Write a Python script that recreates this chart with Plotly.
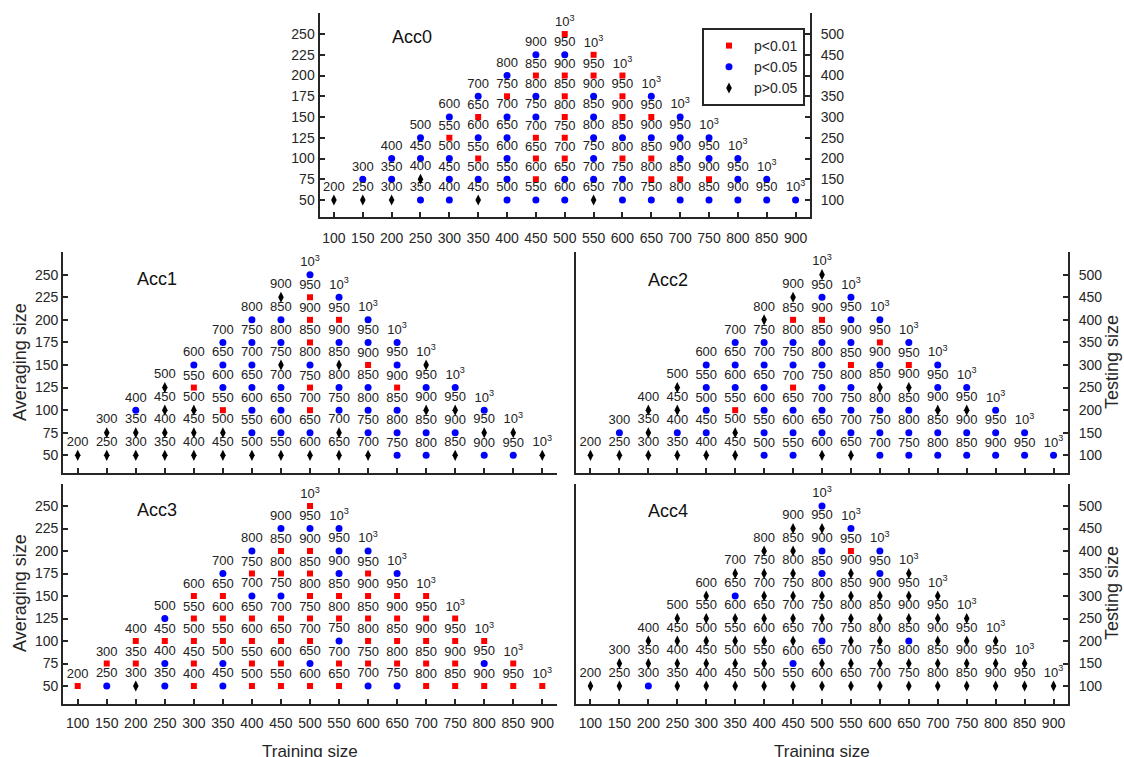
import plotly.graph_objects as go

W, H = 1124, 757

train_sizes = [100, 150, 200, 250, 300, 350, 400, 450, 500, 550, 600, 650, 700, 750, 800, 850, 900]
avg_sizes = [50, 75, 100, 125, 150, 175, 200, 225, 250]
test_ticks = [100, 150, 200, 250, 300, 350, 400, 450, 500]

# significance code per training size, listed from averaging size 50 upward
# r: p<0.01, b: p<0.05, k: p>0.05
acc0 = ["k", "kb", "kbb", "bkbb", "bbbrb", "kbrbrb", "bbbbbrb", "brrrbbrb", "bbrrrrrbr",
        "kbbbbbrr", "bbrbrrr", "brrbrb", "brbbb", "brbb", "bbb", "bb", "b"]
acc1 = ["k", "kk", "kkb", "kkkk", "kkkrb", "kkrbbb", "kbbbbbb", "kbbbkbbk", "kbrrbrrrb",
        "kkbbkbrb", "kbbbrbb", "bbbrbb", "bbkbk", "kbkb", "bkb", "bk", "k"]
acc2 = ["k", "kb", "kkk", "kbkk", "kbbbb", "kkrbbb", "bbbbbbk", "bbbrbbrk", "kbbbbbrbk",
        "kbbbrbbb", "bbbkbrb", "bbbkrb", "bbkbb", "bbkb", "bbb", "bb", "b"]
acc3 = ["r", "br", "krr", "bbrb", "rrrrr", "bbrrrb", "rrrrbrb", "rrrrbrrb", "rbrrrrrbr",
        "rrbrrbbb", "brrrrrb", "brrrrb", "rrrrr", "rrrr", "rbr", "rr", "r"]
acc4 = ["k", "kk", "bkk", "kkkk", "kkkkk", "kkkkbk", "kkkkkkk", "kbkkkkkk", "kkbkkbbkb",
        "kkkkkkrb", "kkkkkbb", "kkbkkk", "kkkkk", "kkkk", "kkk", "kk", "k"]

panel_names = ["Acc0", "Acc1", "Acc2", "Acc3", "Acc4"]
panel_data = [acc0, acc1, acc2, acc3, acc4]
legend_names = {"r": "p<0.01", "b": "p<0.05", "k": "p>0.05"}

AX = "#262626"
FONT = "Liberation Sans, Arial, sans-serif"
LBLFONT = "Liberation Sans Narrow, Arial Narrow, Liberation Sans, Arial, sans-serif"
styles = {
    "r": dict(symbol="square", color="#ff0000", size=6),
    "b": dict(symbol="circle", color="#0000ff", size=7),
    "k": dict(symbol="diamond-tall", color="#000000", size=8),
}

def px_x(a, b):
    return [a / W, b / W]

def px_y(top, bottom):
    return [1 - bottom / H, 1 - top / H]

# panel pixel boxes: (left, right, top, bottom)
boxes = [
    (319.5, 810, 13.3, 216.6),
    (63.2, 556.8, 252.1, 473.4),
    (576, 1068, 252.1, 473.4),
    (63.2, 556.8, 483.5, 704),
    (576, 1068, 483.5, 704),
]

fig = go.Figure()

for pi, cols in enumerate(panel_data):
    k = pi + 1
    for code in "rbk":
        xs, ys, txt = [], [], []
        for x, col in zip(train_sizes, cols):
            for j, c in enumerate(col):
                if c == code:
                    y = avg_sizes[j]
                    tot = x + 2 * y
                    xs.append(x)
                    ys.append(y)
                    txt.append("10<sup>3</sup>" if tot == 1000 else str(tot))
        fig.add_trace(go.Scatter(
            x=xs, y=ys, text=txt, mode="markers+text", textposition="top center",
            marker=dict(symbol=styles[code]["symbol"], color=styles[code]["color"],
                        size=styles[code]["size"], line=dict(width=0)),
            textfont=dict(family=LBLFONT, size=13, color="#222222"),
            xaxis="x" if k == 1 else f"x{k}", yaxis="y" if k == 1 else f"y{k}",
            showlegend=False, hoverinfo="skip", cliponaxis=False,
        ))

for code in "rbk":
    fig.add_trace(go.Scatter(
        x=[None], y=[None], mode="markers", name=legend_names[code],
        marker=dict(symbol=styles[code]["symbol"], color=styles[code]["color"],
                    size=styles[code]["size"], line=dict(width=0)),
        xaxis="x", yaxis="y", showlegend=True,
    ))

tickfont = dict(family=FONT, size=14, color=AX)
layout = dict(
    width=W, height=H, margin=dict(l=0, r=0, t=0, b=0),
    paper_bgcolor="white", plot_bgcolor="white",
    font=dict(family=FONT, color=AX),
    legend=dict(x=702 / W, y=1 - 28 / H, xanchor="left", yanchor="top",
                bordercolor=AX, borderwidth=2, bgcolor="white",
                font=dict(family=FONT, size=14, color=AX), itemwidth=40,
                tracegroupgap=0),
)

show_x_labels = [True, False, False, True, True]
x_standoff = [8, 4, 4, 5, 5]
show_y_labels = [True, True, False, True, False]
left_ticks = [True, True, False, True, False]
right_axes = [True, False, True, False, True]

for pi in range(5):
    k = pi + 1
    l, r, t, b = boxes[pi]
    xname = "xaxis" if k == 1 else f"xaxis{k}"
    yname = "yaxis" if k == 1 else f"yaxis{k}"
    xa = "x" if k == 1 else f"x{k}"
    ya = "y" if k == 1 else f"y{k}"
    layout[xname] = dict(
        domain=px_x(l, r), anchor=ya, range=[75, 925], tickvals=train_sizes,
        showticklabels=show_x_labels[pi], ticks="inside", ticklen=5, tickwidth=1.5,
        tickcolor=AX, showline=True, linecolor=AX, linewidth=2, showgrid=False,
        zeroline=False, tickfont=tickfont, fixedrange=True,
        ticklabelstandoff=x_standoff[pi],
    )
    layout[yname] = dict(
        domain=px_y(t, b), anchor=xa, range=[30, 275], tickvals=avg_sizes,
        showticklabels=show_y_labels[pi], ticks="inside" if left_ticks[pi] else "",
        ticklen=5, tickwidth=1.5, tickcolor=AX, showline=True, linecolor=AX,
        linewidth=2, showgrid=False, zeroline=False, tickfont=tickfont, fixedrange=True,
    )

right_idx = 6
for pi in range(5):
    if not right_axes[pi]:
        continue
    k = pi + 1
    l, r, t, b = boxes[pi]
    ya = "y" if k == 1 else f"y{k}"
    xa = "x" if k == 1 else f"x{k}"
    layout[f"yaxis{right_idx}"] = dict(
        domain=px_y(t, b), anchor=xa, overlaying=ya, side="right",
        range=[60, 550], tickvals=test_ticks, ticks="inside", ticklen=5,
        tickwidth=1.5, tickcolor=AX, showline=True, linecolor=AX, linewidth=2,
        showgrid=False, zeroline=False, tickfont=tickfont, fixedrange=True,
        ticklabelstandoff=6,
    )
    # dummy trace so the overlay axis is drawn
    fig.add_trace(go.Scatter(x=[None], y=[None], xaxis=xa, yaxis=f"y{right_idx}",
                             showlegend=False, hoverinfo="skip"))
    right_idx += 1

annotations = []
title_pos = [(412, 37), (157, 279), (668, 280), (157, 510), (668, 511)]
for name, (cx, cy) in zip(panel_names, title_pos):
    annotations.append(dict(text=name, x=cx / W, y=1 - cy / H, xref="paper", yref="paper",
                            showarrow=False, xanchor="center", yanchor="middle",
                            font=dict(family=FONT, size=18, color="#111111")))

for cy in (362, 593):
    annotations.append(dict(text="Averaging size", x=20 / W, y=1 - cy / H, xref="paper",
                            yref="paper", showarrow=False, textangle=-90,
                            xanchor="center", yanchor="middle",
                            font=dict(family=FONT, size=18, color=AX)))
    annotations.append(dict(text="Testing size", x=1112 / W, y=1 - cy / H, xref="paper",
                            yref="paper", showarrow=False, textangle=-90,
                            xanchor="center", yanchor="middle",
                            font=dict(family=FONT, size=18, color=AX)))
for cx in (310, 822):
    annotations.append(dict(text="Training size", x=cx / W, y=1 - 751 / H, xref="paper",
                            yref="paper", showarrow=False, xanchor="center",
                            yanchor="middle", font=dict(family=FONT, size=17, color=AX)))

layout["annotations"] = annotations
fig.update_layout(**layout)

fig.write_html("out.html")
